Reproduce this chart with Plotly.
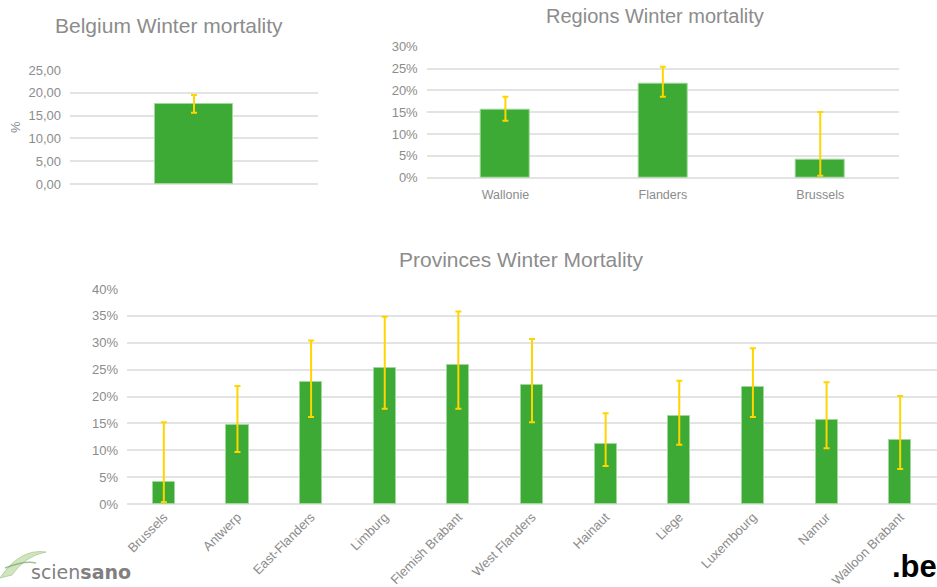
import plotly.graph_objects as go

# ---------------- data ----------------
belgium_cat = ["Belgium"]
belgium_val = [17.6]
belgium_hi = [19.5]
belgium_lo = [15.6]

region_cat = ["Wallonie", "Flanders", "Brussels"]
region_val = [0.156, 0.215, 0.0405]
region_hi = [0.1855, 0.254, 0.1505]
region_lo = [0.1305, 0.1855, 0.0046]

prov_cat = ["Brussels", "Antwerp", "East-Flanders", "Limburg", "Flemish Brabant",
            "West Flanders", "Hainaut", "Liege", "Luxembourg", "Namur", "Walloon Brabant"]
prov_val = [0.0403, 0.147, 0.2276, 0.253, 0.259, 0.2208, 0.1116, 0.163, 0.2177, 0.1563, 0.1185]
prov_hi = [0.152, 0.2195, 0.304, 0.3485, 0.358, 0.307, 0.1687, 0.2295, 0.290, 0.2264, 0.201]
prov_lo = [0.0037, 0.0967, 0.162, 0.1774, 0.1774, 0.152, 0.0707, 0.1104, 0.1619, 0.1036, 0.065]

# ---------------- style ----------------
W, H = 937, 587
GREEN = "#3caa35"
EDGE = "#9fd89a"
GOLD = "#ffd500"
GRAY = "#8c8c8c"
GRID = "#e3e3e3"
FONT = "Liberation Sans, Arial, sans-serif"


def px(x):
    return x / W


def py(y):
    return 1 - y / H


def errs(val, hi, lo):
    return ([h - v for h, v in zip(hi, val)], [v - l for v, l in zip(val, lo)])


fig = go.Figure()

for cat, val, hi, lo, xa, ya, wd in [
    (belgium_cat, belgium_val, belgium_hi, belgium_lo, "x", "y", 0.315),
    (region_cat, region_val, region_hi, region_lo, "x2", "y2", 0.31),
    (prov_cat, prov_val, prov_hi, prov_lo, "x3", "y3", 0.30),
]:
    up, down = errs(val, hi, lo)
    fig.add_trace(go.Bar(
        x=cat, y=val, xaxis=xa, yaxis=ya, width=wd,
        marker=dict(color=GREEN, line=dict(color=EDGE, width=1)),
        error_y=dict(type="data", symmetric=False, array=up, arrayminus=down,
                     color=GOLD, thickness=2, width=3),
        showlegend=False, hoverinfo="x+y",
    ))

axis_common = dict(showgrid=True, gridcolor=GRID, gridwidth=1.5, zeroline=True,
                   zerolinecolor=GRID, zerolinewidth=1.5, showline=False, ticks="",
                   tickfont=dict(family=FONT, size=13, color=GRAY), fixedrange=True,
                   ticklabelstandoff=8, automargin=False)
xcommon = dict(showgrid=False, zeroline=False, showline=False, ticks="", fixedrange=True,
               tickfont=dict(family=FONT, size=12.5, color=GRAY), automargin=False)

fig.update_layout(
    width=W, height=H,
    margin=dict(l=0, r=0, t=0, b=0),
    paper_bgcolor="white", plot_bgcolor="white",
    separators=",.",
    bargap=0,
    font=dict(family=FONT, color=GRAY),
    xaxis=dict(domain=[px(70), px(318)], anchor="y", showticklabels=False,
               range=[-0.5, 0.5], **xcommon),
    yaxis=dict(domain=[py(184), py(70)], anchor="x", range=[0, 25], dtick=5,
               tickformat=".2f", **axis_common),
    xaxis2=dict(domain=[px(426.7), px(899)], anchor="y2", range=[-0.5, 2.5],
                ticklabelstandoff=8, **xcommon),
    yaxis2=dict(domain=[py(177.7), py(46.7)], anchor="x2", range=[0, 0.30], dtick=0.05,
                tickformat=".0%", **axis_common),
    xaxis3=dict(domain=[px(127), 1.0], anchor="y3", range=[-0.5, 10.5], tickangle=-45,
                ticklabelstandoff=2,
                **{**xcommon, "tickfont": dict(family=FONT, size=13, color=GRAY)}),
    yaxis3=dict(domain=[py(504), py(289)], anchor="x3", range=[0, 0.40], dtick=0.05,
                tickformat=".0%", **axis_common),
)

ann = [
    dict(text="Belgium Winter mortality", x=px(169), y=py(25), size=21),
    dict(text="Regions Winter mortality", x=px(655), y=py(16), size=20),
    dict(text="Provinces Winter Mortality", x=px(521), y=py(259), size=21),
]
for a in ann:
    fig.add_annotation(text=a["text"], x=a["x"], y=a["y"], xref="paper", yref="paper",
                       showarrow=False, xanchor="center", yanchor="middle",
                       font=dict(family=FONT, size=a["size"], color=GRAY))

fig.add_annotation(text="%", x=px(15), y=py(127), xref="paper", yref="paper",
                   showarrow=False, textangle=-90, xanchor="center", yanchor="middle",
                   font=dict(family=FONT, size=13, color=GRAY))

# logos
fig.add_shape(type="path", xref="paper", yref="paper",
              path=(f"M {px(0)},{py(578)} Q {px(20)},{py(548)} {px(46)},{py(552)} "
                    f"Q {px(25)},{py(556)} {px(12)},{py(575)} Z"),
              fillcolor="rgba(170,205,140,0.55)", line=dict(color="rgba(150,190,120,0.6)", width=1))
fig.add_shape(type="path", xref="paper", yref="paper",
              path=(f"M {px(5)},{py(568)} Q {px(25)},{py(560)} {px(36)},{py(563)} "),
              line=dict(color="rgba(120,170,100,0.7)", width=1.5))
fig.add_annotation(text="scien<b>sano</b>", x=px(29), y=py(572), xref="paper", yref="paper",
                   showarrow=False, xanchor="left", yanchor="middle",
                   font=dict(family="DejaVu Sans", size=19, color="#808080"))
fig.add_annotation(text="<b>.be</b>", x=px(890), y=py(566), xref="paper", yref="paper",
                   showarrow=False, xanchor="left", yanchor="middle",
                   font=dict(family="Liberation Sans", size=31, color="black"))

fig.write_html("out.html", config={"displayModeBar": False},
               post_script="document.body.style.margin='0';")
